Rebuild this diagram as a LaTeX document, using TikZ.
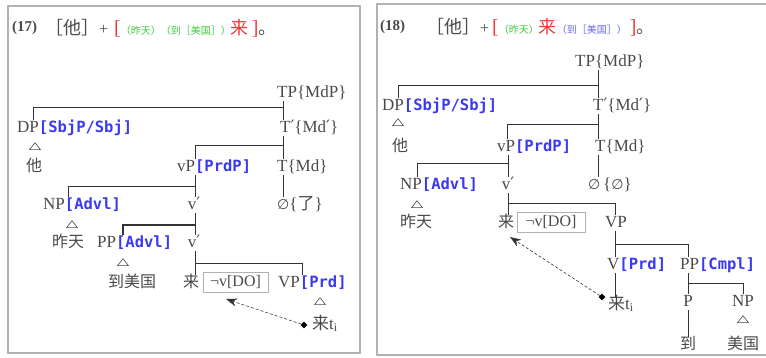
\documentclass[tikz,border=0pt]{standalone}
\usepackage{fontspec}
\setmainfont{Liberation Serif}
\newfontfamily\cjk{Noto Sans CJK SC}
\newfontfamily\bluef{DejaVu Sans Mono}
\newfontfamily\symf{DejaVu Serif}
\newfontfamily\syms{DejaVu Sans}
\usetikzlibrary{arrows.meta,shapes.geometric}
\definecolor{tx}{HTML}{4A4A4A}
\definecolor{ln}{HTML}{333333}
\definecolor{bl}{HTML}{3A3AF0}
\definecolor{hbl}{HTML}{6A6AF5}
\definecolor{gr}{HTML}{3FCC3F}
\definecolor{rd}{HTML}{F03A3A}
\newcommand{\ann}[1]{{\bluef\bfseries\fontsize{15.5}{18}\selectfont\color{bl}#1}}
\newcommand{\pr}{{\symf ′}}
\newcommand{\nul}{{\syms\fontsize{14}{16}\selectfont ∅}}
\newcommand{\bigc}{\cjk\fontsize{18}{20}\selectfont}
\newcommand{\smc}{\cjk\fontsize{10}{12}\selectfont}
\begin{document}
\begin{tikzpicture}[x=1pt,y=-1pt,
 lab/.style={inner sep=0pt, text height=12pt, text depth=4pt, text=tx, font=\fontsize{17}{20}\selectfont},
 cj/.style={inner sep=0pt, text height=12pt, text depth=4pt, text=tx, font=\cjk\fontsize{16}{18}\selectfont},
 br/.style={draw=ln, line width=0.9pt},
 tri/.style={draw=tx, isosceles triangle, shape border rotate=90, isosceles triangle stretches, minimum width=11pt, minimum height=7pt, inner sep=0pt, line width=0.6pt},
 boxed/.style={draw=gray!60, line width=0.7pt, minimum width=65pt, minimum height=20pt, inner sep=0pt, text=tx, font=\fontsize{16}{18}\selectfont},
 dia/.style={diamond, fill=black, minimum size=7pt, inner sep=0pt},
 mv/.style={draw=ln, line width=0.6pt, dash pattern=on 3pt off 2pt, -{Stealth[length=11pt,width=8pt]}},
 panel/.style={draw=gray!60, line width=1.8pt},
 hd/.style={inner sep=0pt, anchor=west, text=tx}
]
\useasboundingbox[fill=white] (0,0) rectangle (766,357);
\draw[panel] (8,6) rectangle (360,353);
\draw[panel] (377,4) rectangle (772,355);

% ---------- panel 1 header
\node[hd] (h17n) at (12,28) {\bfseries\fontsize{15}{18}\selectfont (17)};
\node[hd] (h17) at (45,28) {{\bigc ［他］}{\fontsize{16}{18}\selectfont +}\hspace{6pt}{\color{rd}\fontsize{20}{20}\selectfont [}{\smc\color{gr}（昨天）（到［美国］）}{\color{rd}\bigc 来}\hspace{3pt}{\color{rd}\fontsize{20}{20}\selectfont ]}{\bigc 。}};

% ---------- panel 1 tree
\node[lab,anchor=west] (tp1) at (277,93) {TP\{MdP\}};
\node[lab,anchor=west] (dp1) at (17,128) {DP\ann{[SbjP/Sbj]}};
\node[lab,anchor=west] (tb1) at (280,128) {T\pr\{Md\pr\}};
\node[tri] (tr1a) at (35,147) {};
\node[cj] (ta1) at (34,167) {他};
\node[lab,anchor=west] (vp1) at (177,167) {vP\ann{[PrdP]}};
\node[lab,anchor=west] (t1) at (277,167) {T\{Md\}};
\node[lab,anchor=west] (np1) at (43,205) {NP\ann{[Advl]}};
\node[lab] (vb1) at (194,205) {v\pr};
\node[lab,anchor=west] (nu1) at (277,205) {\nul\{{\cjk 了}\}};
\node[tri] (tr1b) at (72,225) {};
\node[cj] (zt1) at (68,243) {昨天};
\node[lab,anchor=west] (pp1) at (97,243) {PP\ann{[Advl]}};
\node[lab] (vb2) at (194,243) {v\pr};
\node[tri] (tr1c) at (123,263) {};
\node[cj] (dm1) at (132,283) {到美国};
\node[cj] (lai1) at (191,283) {来};
\node[boxed] (bx1) at (235.5,282) {¬v[DO]};
\node[lab,anchor=west] (vpp1) at (278,283) {VP\ann{[Prd]}};
\node[tri] (tr1d) at (320,302) {};
\node[lab,anchor=west] (lt1) at (312,325) {{\cjk 来}t\textsubscript{i}};
\node[dia] (di1) at (304,325) {};
\coordinate (ar1) at (226,299);

\draw[br] (tp1.south -| 283,0) -- (tb1.north -| 283,0);
\draw[br] (dp1.north -| 33,0) |- (283,107);
\draw[br] (tb1.south -| 283,0) -- (t1.north -| 283,0);
\draw[br] (vp1.north -| 195,0) |- (283,145);
\draw[br] (vp1.south -| 195,0) -- (vb1.north -| 195,0);
\draw[br] (np1.north -| 68,0) |- (195,186);
\draw[br] (t1.south -| 283,0) -- (nu1.north -| 283,0);
\draw[br] (vb1.south -| 195,0) -- (vb2.north -| 195,0);
\draw[br,line width=1.6pt] (pp1.north -| 123,0) |- (195,225);
\draw[br] (vb2.south -| 195,0) -- (lai1.north -| 195,0);
\draw[br] (vpp1.north -| 302,0) |- (195,263);
\draw[mv] (di1) -- (ar1);

% ---------- panel 2 header
\node[hd] (h18n) at (380,27) {\bfseries\fontsize{15}{18}\selectfont (18)};
\node[hd] (h18) at (426,27) {{\bigc ［他］}{\fontsize{16}{18}\selectfont +}\hspace{3pt}{\color{rd}\fontsize{20}{20}\selectfont [}{\smc\color{gr}（昨天）}{\color{rd}\bigc 来}{\smc\color{hbl}（到［美国］）}\hspace{3pt}{\color{rd}\fontsize{20}{20}\selectfont ]}{\bigc 。}};

% ---------- panel 2 tree
\node[lab,anchor=west] (tp2) at (575,62) {TP\{MdP\}};
\node[lab,anchor=west] (dp2) at (382,106) {DP\ann{[SbjP/Sbj]}};
\node[lab,anchor=west] (tb2) at (593,106) {T\pr\{Md\pr\}};
\node[tri] (tr2a) at (398,123) {};
\node[cj] (ta2) at (400,147) {他};
\node[lab,anchor=west] (vp2) at (497,147) {vP\ann{[PrdP]}};
\node[lab,anchor=west] (t2) at (595,147) {T\{Md\}};
\node[lab,anchor=west] (np2) at (400,185) {NP\ann{[Advl]}};
\node[lab] (vb3) at (508,185) {v\pr};
\node[lab,anchor=west] (nu2) at (588,185) {\nul\,\{\nul\}};
\node[tri] (tr2b) at (417,205) {};
\node[cj] (zt2) at (416,223) {昨天};
\node[cj] (lai2) at (506,223) {来};
\node[boxed,minimum width=68pt] (bx2) at (551,222) {¬v[DO]};
\node[lab] (vpp2) at (616,223) {VP};
\node[lab,anchor=west] (v2) at (607,265) {V\ann{[Prd]}};
\node[lab,anchor=west] (pp2) at (680,265) {PP\ann{[Cmpl]}};
\node[lab,anchor=west] (lt2) at (608,305) {{\cjk 来}t\textsubscript{i}};
\node[dia] (di2) at (602,297) {};
\coordinate (ar2) at (510,237);
\node[lab] (p2) at (688,302) {P};
\node[lab] (np3) at (743,302) {NP};
\node[cj] (dao2) at (688,345) {到};
\node[tri] (tr2c) at (743,320) {};
\node[cj] (mg2) at (743,345) {美国};

\draw[br] (tp2.south -| 598,0) -- (tb2.north -| 598,0);
\draw[br] (dp2.north -| 398,0) |- (598,85);
\draw[br] (tb2.south -| 598,0) -- (t2.north -| 598,0);
\draw[br] (vp2.north -| 507,0) |- (598,124);
\draw[br] (vp2.south -| 508,0) -- (vb3.north -| 508,0);
\draw[br] (np2.north -| 417,0) |- (508,163);
\draw[br] (t2.south -| 598,0) -- (nu2.north -| 598,0);
\draw[br] (vb3.south -| 508,0) -- (lai2.north -| 508,0);
\draw[br] (vpp2.north -| 615,0) |- (508,203);
\draw[br] (vpp2.south -| 615,0) -- (v2.north -| 615,0);
\draw[br] (pp2.north -| 688,0) |- (615,244);
\draw[br] (v2.south -| 615,0) -- (lt2.north -| 615,0);
\draw[br] (pp2.south -| 688,0) -- (p2.north -| 688,0);
\draw[br] (np3.north -| 743,0) |- (688,283);
\draw[br] (p2.south -| 688,0) -- (dao2.north -| 688,0);
\draw[mv] (di2) -- (ar2);
\end{tikzpicture}
\end{document}
